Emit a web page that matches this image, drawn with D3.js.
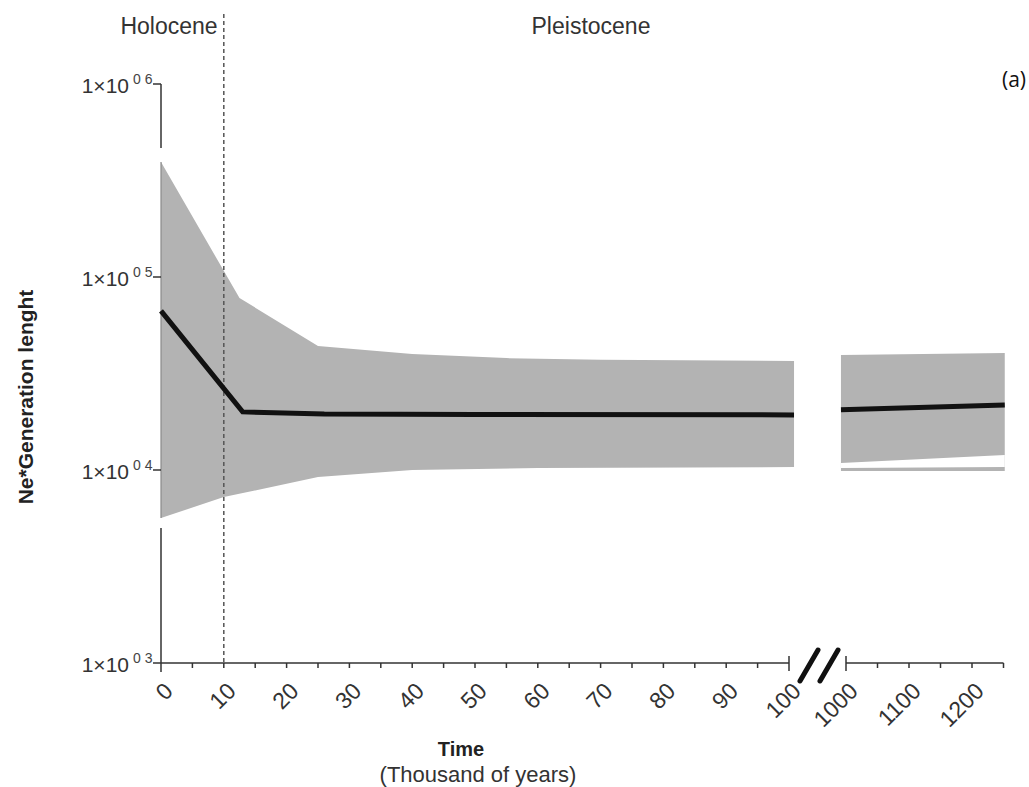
<!DOCTYPE html>
<html>
<head>
<meta charset="utf-8">
<script src="https://cdn.jsdelivr.net/npm/d3@7"></script>
<style>
  body { margin: 0; background: #fff; }
  svg { display: block; font-family: Arial, "Liberation Sans", sans-serif; }
</style>
</head>
<body>
<svg id="chart" width="1029" height="787"></svg>
<script>
// median line, left part (thousand of years)
const medianLeftTime = [0, 13, 26, 50, 100.8];
const medianLeftValue = [66700, 20000, 19500, 19400, 19300];
// upper / lower 95% band, left part
const upperLeftTime = [0, 12.5, 25, 40, 55, 70, 100.8];
const upperLeftValue = [394000, 77800, 43900, 39900, 38000, 37300, 36700];
const lowerLeftTime = [0, 10, 25, 40, 60, 100.8];
const lowerLeftValue = [5640, 7240, 9200, 10000, 10240, 10360];

// right part (after the break)
const rightTime = [992, 1252];
const medianRightValue = [20500, 21700];
const upperRightValue = [39400, 40400];
const lowerRightValue = [9880, 9880];
// white sliver seen in the lower part of the right band
const gapTopValue = [10870, 11960];
const gapBottomValue = [10240, 10360];

const leftTicks = [0, 10, 20, 30, 40, 50, 60, 70, 80, 90, 100];
const rightTicks = [1000, 1100, 1200];
const yTicks = [1e3, 1e4, 1e5, 1e6];
const yTickExp = ['0 3', '0 4', '0 5', '0 6'];

const svg = d3.select('#chart');

const y = d3.scaleLog().domain([1e3, 1e6]).range([663, 84]);
const xL = d3.scaleLinear().domain([0, 100]).range([161, 789]);
const xR = d3.scaleLinear().domain([1000, 1250]).range([846, 1003.5]);

const pts = (times, values) => times.map((t, i) => ({ t: t, v: values[i] }));

function bandPath(x, upT, upV, loT, loV) {
    const line = d3.line().x(d => x(d.t)).y(d => y(d.v));
    const all = pts(upT, upV).concat(pts(loT, loV).reverse());
    return line(all) + 'Z';
}

const axisColor = '#333';
const bandColor = '#b3b3b3';

/**
 * bands
 */
svg.append('path')
    .attr('d', bandPath(xL, upperLeftTime, upperLeftValue, lowerLeftTime, lowerLeftValue))
    .style('fill', bandColor);

svg.append('path')
    .attr('d', bandPath(xR, rightTime, upperRightValue, rightTime, lowerRightValue))
    .style('fill', bandColor);

svg.append('path')
    .attr('d', bandPath(xR, rightTime, gapTopValue, rightTime, gapBottomValue))
    .style('fill', '#fff');

/**
 * y axis, broken where the band touches it
 */
const bandTop0 = y(upperLeftValue[0]);
const bandBot0 = y(lowerLeftValue[0]);
svg.append('line')
    .attr('x1', 161).attr('x2', 161)
    .attr('y1', y(1e6)).attr('y2', bandTop0 - 14)
    .style('stroke', axisColor).style('stroke-width', 1.5);
svg.append('line')
    .attr('x1', 161).attr('x2', 161)
    .attr('y1', bandTop0).attr('y2', bandBot0)
    .style('stroke', '#8a8a8a').style('stroke-width', 1.2);
svg.append('line')
    .attr('x1', 161).attr('x2', 161)
    .attr('y1', bandBot0 + 10).attr('y2', y(1e3) + 9)
    .style('stroke', axisColor).style('stroke-width', 1.5);

const yg = svg.append('g');
yg.selectAll('line.ytick')
    .data(yTicks)
    .enter().append('line')
    .attr('x1', 153).attr('x2', 161)
    .attr('y1', d => y(d)).attr('y2', d => y(d))
    .style('stroke', axisColor).style('stroke-width', 1.5);

yg.selectAll('text.ylab')
    .data(yTicks)
    .enter().append('text')
    .attr('x', 129)
    .attr('y', d => y(d) + 9)
    .attr('text-anchor', 'end')
    .style('font-size', '21px')
    .style('fill', '#333')
    .text('1×10');
yg.selectAll('text.yexp')
    .data(yTicks)
    .enter().append('text')
    .attr('x', 133)
    .attr('y', d => y(d) - 0.5)
    .style('font-size', '14px')
    .style('fill', '#444')
    .style('white-space', 'pre')
    .text((d, i) => yTickExp[i]);

/**
 * x axis, two segments
 */
const xg = svg.append('g');
xg.append('line')
    .attr('x1', xL(0)).attr('x2', xL(100))
    .attr('y1', 663).attr('y2', 663)
    .style('stroke', axisColor).style('stroke-width', 1.5);
xg.append('line')
    .attr('x1', xR(1000)).attr('x2', xR(1250))
    .attr('y1', 663).attr('y2', 663)
    .style('stroke', axisColor).style('stroke-width', 1.5);

xg.selectAll('line.lt')
    .data(d3.range(5, 100, 5))
    .enter().append('line')
    .attr('x1', d => xL(d)).attr('x2', d => xL(d))
    .attr('y1', 663).attr('y2', 668)
    .style('stroke', axisColor).style('stroke-width', 1.5);
xg.selectAll('line.rt')
    .data(d3.range(1050, 1251, 50))
    .enter().append('line')
    .attr('x1', d => xR(d)).attr('x2', d => xR(d))
    .attr('y1', 663).attr('y2', 668)
    .style('stroke', axisColor).style('stroke-width', 1.5);
// end caps of the two segments
[xL(100), xR(1000)].forEach(px => {
    xg.append('line')
        .attr('x1', px).attr('x2', px)
        .attr('y1', 656).attr('y2', 671)
        .style('stroke', axisColor).style('stroke-width', 1.5);
});

const tickLabel = (x, v) => {
    xg.append('text')
        .attr('transform', 'translate(' + (x(v) + 2) + ',681) rotate(-45)')
        .attr('text-anchor', 'end')
        .attr('dy', '0.7em')
        .style('font-size', '23px')
        .style('fill', '#333')
        .text(v);
};
leftTicks.forEach(v => tickLabel(xL, v));
rightTicks.forEach(v => tickLabel(xR, v));

// axis break marks
[800, 820].forEach(px => {
    svg.append('line')
        .attr('x1', px).attr('y1', 681)
        .attr('x2', px + 18).attr('y2', 650)
        .style('stroke', '#111').style('stroke-width', 5)
        .style('stroke-linecap', 'round');
});

/**
 * holocene boundary
 */
svg.append('line')
    .attr('x1', xL(10)).attr('x2', xL(10))
    .attr('y1', 14).attr('y2', 663)
    .style('stroke', '#555').style('stroke-width', 1.5)
    .style('stroke-dasharray', '4,3');

/**
 * median lines
 */
const medLine = x => d3.line().x(d => x(d.t)).y(d => y(d.v));
svg.append('path')
    .attr('d', medLine(xL)(pts(medianLeftTime, medianLeftValue)))
    .style('fill', 'none').style('stroke', '#111').style('stroke-width', 5);
svg.append('path')
    .attr('d', medLine(xR)(pts(rightTime, medianRightValue)))
    .style('fill', 'none').style('stroke', '#111').style('stroke-width', 5);

/**
 * titles
 */
svg.append('text')
    .attr('x', 169).attr('y', 34)
    .attr('text-anchor', 'middle')
    .style('font-size', '23px').style('fill', '#333')
    .text('Holocene');
svg.append('text')
    .attr('x', 591).attr('y', 34)
    .attr('text-anchor', 'middle')
    .style('font-size', '23px').style('fill', '#333')
    .text('Pleistocene');
svg.append('text')
    .attr('x', 1026).attr('y', 87)
    .attr('text-anchor', 'end')
    .style('font-size', '21px').style('fill', '#111')
    .style('font-family', '"Open Sans", sans-serif')
    .text('(a)');

svg.append('text')
    .attr('transform', 'translate(33,397) rotate(-90)')
    .attr('text-anchor', 'middle')
    .style('font-size', '21px').style('font-weight', 'bold').style('fill', '#222')
    .text('Ne*Generation lenght');

svg.append('text')
    .attr('x', 461).attr('y', 756)
    .attr('text-anchor', 'middle')
    .style('font-size', '20px').style('font-weight', 'bold').style('fill', '#222')
    .text('Time');
svg.append('text')
    .attr('x', 478).attr('y', 782)
    .attr('text-anchor', 'middle')
    .style('font-size', '22px').style('fill', '#333')
    .text('(Thousand of years)');
</script>
</body>
</html>
